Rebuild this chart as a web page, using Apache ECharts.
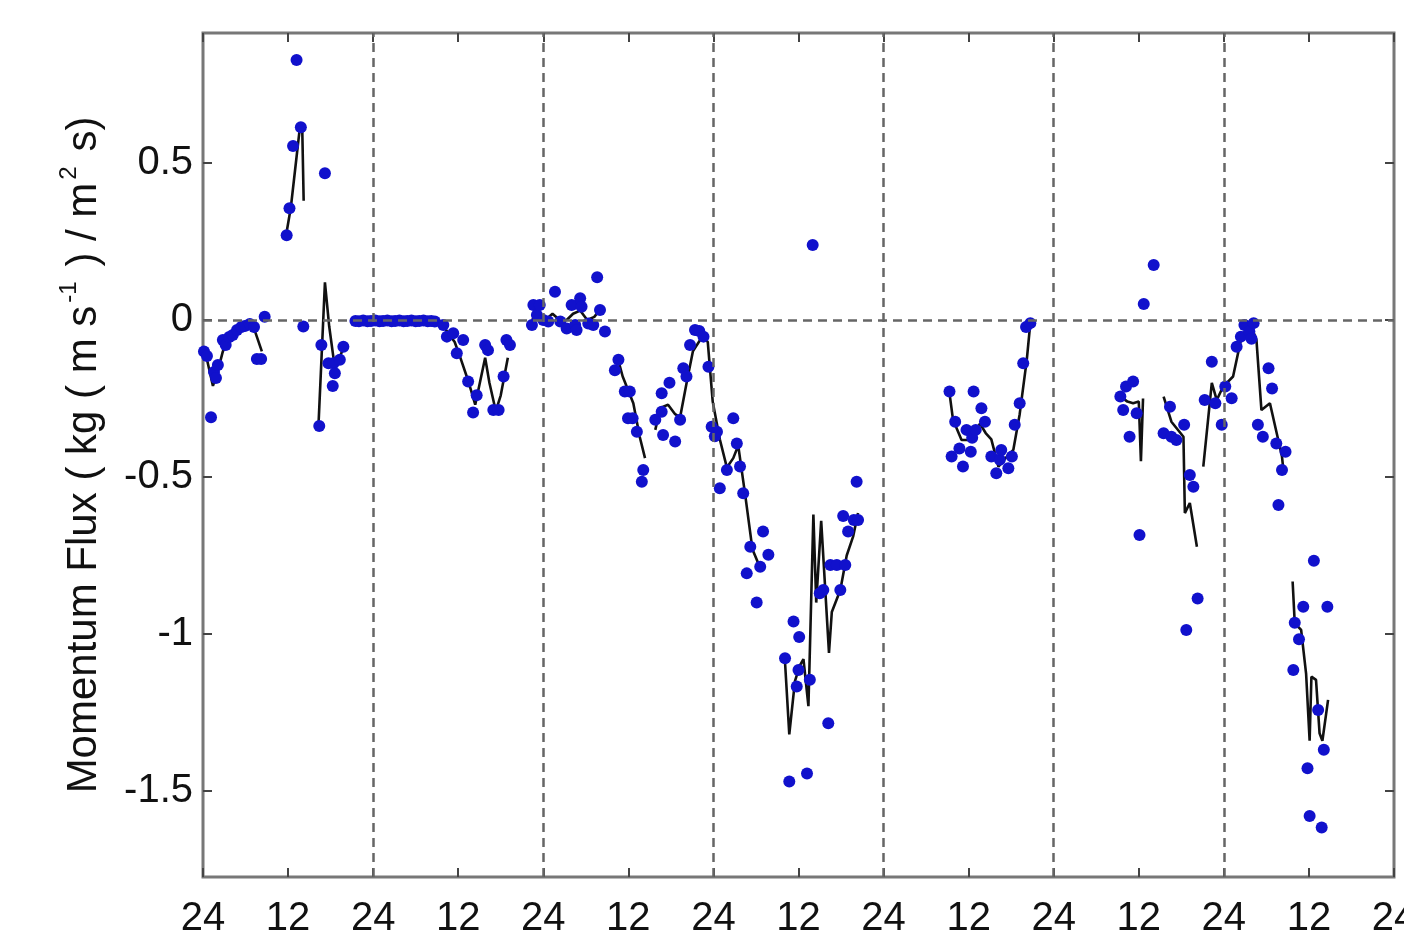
<!DOCTYPE html>
<html><head><meta charset="utf-8">
<script src="https://cdn.jsdelivr.net/npm/echarts@6/dist/echarts.min.js"></script>
<style>html,body{margin:0;padding:0;background:#fff;overflow:hidden;width:1404px;height:946px}#c{width:1404px;height:946px;position:absolute;left:0;top:0}</style>
</head><body><div id="c"></div>
<script>
// Scatter (raw) data: hours and momentum flux values
const dotHours = [
 0.14,0.56,1.13,1.55,1.83,2.1,2.8,3.2,3.7,4.2,4.8,5.4,5.9,6.6,7.2,7.6,8.2,8.7,
 11.8,12.2,12.7,13.2,13.8,14.15,16.4,16.7,17.2,17.7,18.3,18.4,18.6,19.3,19.8,
 21.5,22.0,22.6,23.2,23.7,24.3,24.9,25.4,26.0,26.6,27.1,27.7,28.3,28.8,29.4,30.0,30.5,31.1,31.7,32.2,32.7,
 33.9,34.4,35.3,35.8,36.7,37.4,38.1,38.6,39.8,40.2,40.95,41.7,42.4,42.8,43.3,
 46.4,46.6,47.1,47.5,48.0,48.7,49.65,50.4,51.3,52.0,52.5,52.7,53.2,53.4,54.35,55.05,55.6,56.0,56.7,
 58.1,58.6,59.5,59.95,60.2,60.6,61.2,61.9,62.1,63.8,64.7,64.7,64.9,65.8,66.6,67.3,67.75,68.2,68.7,69.4,70.0,70.6,71.3,71.75,72.2,72.5,72.9,73.9,74.8,75.3,75.75,76.2,76.7,77.2,78.1,78.6,79.0,79.75,
 82.1,82.7,83.3,83.75,84.0,84.1,85.2,85.6,86.0,87.0,87.5,88.2,88.5,89.4,89.9,90.3,90.6,91.0,91.8,92.2,92.4,
 105.3,105.6,106.1,106.7,107.2,107.7,108.3,108.5,108.7,109.0,109.8,110.3,111.2,111.9,112.4,112.6,113.6,114.1,114.5,115.2,115.7,116.1,116.7,
 129.4,129.8,130.2,130.7,131.2,131.7,132.1,132.7,134.1,135.5,136.4,136.6,137.3,138.4,138.7,139.2,139.7,140.3,141.3,142.3,142.8,143.7,144.2,145.1,145.8,146.4,146.9,147.6,147.9,148.2,148.8,149.5,150.3,150.8,151.4,151.7,152.2,152.7,
 153.8,154.0,154.6,155.2,155.8,156.1,156.7,157.3,157.8,158.1,158.6
];
const dotValues = [
 -0.10,-0.115,-0.31,-0.166,-0.185,-0.143,-0.064,-0.08,-0.054,-0.048,-0.032,-0.022,-0.019,-0.013,-0.022,-0.124,-0.124,0.01,
 0.27,0.356,0.554,0.828,0.614,-0.021,-0.338,-0.08,0.467,-0.138,-0.21,-0.138,-0.17,-0.127,-0.085,
 -0.003,-0.004,-0.002,-0.004,-0.003,-0.002,-0.004,-0.003,-0.002,-0.004,-0.003,-0.002,-0.004,-0.003,-0.002,-0.004,-0.003,-0.002,-0.004,-0.003,-0.005,
 -0.016,-0.053,-0.042,-0.106,-0.064,-0.196,-0.295,-0.24,-0.08,-0.096,-0.287,-0.287,-0.18,-0.064,-0.08,
 -0.016,0.048,0.016,0.048,0.0,-0.005,0.09,-0.005,-0.027,0.048,-0.016,-0.032,0.069,0.042,-0.011,-0.016,0.136,0.032,-0.037,
 -0.16,-0.127,-0.228,-0.313,-0.228,-0.313,-0.356,-0.515,-0.478,-0.318,-0.233,-0.292,-0.366,-0.2,-0.387,-0.318,-0.154,-0.18,-0.08,-0.032,-0.035,-0.053,-0.149,-0.34,-0.37,-0.356,-0.536,-0.478,-0.313,-0.393,-0.467,-0.552,-0.807,-0.722,-0.9,-0.786,-0.674,-0.748,
 -1.077,-1.47,-0.96,-1.167,-1.115,-1.01,-1.444,-1.146,0.239,-0.87,-0.86,-1.284,-0.78,-0.78,-0.86,-0.624,-0.78,-0.674,-0.637,-0.515,-0.637,
 -0.228,-0.435,-0.324,-0.409,-0.467,-0.35,-0.42,-0.375,-0.228,-0.35,-0.281,-0.324,-0.435,-0.488,-0.445,-0.414,-0.472,-0.435,-0.334,-0.265,-0.138,-0.022,-0.01,
 -0.244,-0.287,-0.212,-0.372,-0.196,-0.297,-0.685,0.051,0.175,-0.361,-0.276,-0.372,-0.382,-0.334,-0.987,-0.494,-0.531,-0.887,-0.255,-0.133,-0.265,-0.334,-0.212,-0.249,-0.085,-0.053,-0.016,-0.037,-0.06,-0.01,-0.334,-0.372,-0.154,-0.218,-0.393,-0.589,-0.478,-0.42,
 -1.115,-0.964,-1.017,-0.913,-1.428,-1.58,-0.767,-1.242,-1.616,-1.369,-0.913
];
// Smoothed line data (null = gap)
const lineHours = [
 0.0,0.6,1.4,2.0,2.8,3.8,5.0,6.4,7.4,8.3,null,
 11.8,12.4,13.1,13.6,14.0,14.2,null,
 16.3,17.2,17.8,18.4,19.0,19.6,null,
 21.5,24.0,27.0,30.0,32.7,33.9,35.5,36.3,37.5,38.4,39.8,40.4,41.3,42.0,43.0,null,
 46.4,47.3,48.3,49.3,50.3,51.3,52.2,53.2,54.2,55.2,56.2,null,
 58.6,59.2,60.7,61.6,62.35,null,
 63.8,64.5,65.6,66.6,67.3,68.3,69.1,70.5,71.2,71.9,72.9,73.9,74.8,75.5,76.5,77.5,78.6,null,
 82.1,82.7,83.5,84.2,84.7,85.4,86.1,86.5,87.2,88.3,88.7,89.9,90.8,91.7,92.4,null,
 105.3,105.8,107.0,108.2,109.6,110.4,111.2,112.2,113.2,114.3,115.2,116.2,116.7,null,
 129.2,130.4,131.2,132.0,132.3,132.6,null,
 135.5,136.6,138.3,138.5,139.2,140.2,null,
 141.1,142.3,143.0,143.9,145.3,146.5,147.7,148.6,149.3,150.5,152.2,152.4,null,
 153.7,154.0,154.9,155.6,156.1,156.35,157.0,157.5,157.9,158.7
];
const lineValues = [
 -0.10,-0.13,-0.21,-0.17,-0.10,-0.06,-0.04,-0.02,-0.04,-0.10,null,
 0.28,0.36,0.50,0.60,0.61,0.38,null,
 -0.33,0.12,-0.02,-0.12,-0.14,-0.10,null,
 -0.003,-0.003,-0.003,-0.003,-0.003,-0.02,-0.07,-0.12,-0.20,-0.27,-0.12,-0.20,-0.29,-0.24,-0.12,null,
 0.0,0.02,0.0,0.02,0.0,0.0,0.02,0.03,0.0,0.01,0.04,null,
 -0.13,-0.18,-0.265,-0.372,-0.44,null,
 -0.35,-0.28,-0.27,-0.30,-0.31,-0.19,-0.10,-0.05,-0.07,-0.26,-0.38,-0.47,-0.44,-0.40,-0.56,-0.73,-0.79,null,
 -1.09,-1.32,-1.15,-1.10,-1.08,-1.23,-0.62,-0.90,-0.64,-1.06,-0.93,-0.86,-0.75,-0.69,-0.615,null,
 -0.233,-0.318,-0.382,-0.382,-0.33,-0.36,-0.38,-0.467,-0.44,-0.414,-0.30,-0.127,-0.01,null,
 -0.24,-0.26,-0.265,-0.26,-0.45,-0.25,null,
 -0.244,-0.324,-0.372,-0.615,-0.583,-0.722,null,
 -0.467,-0.20,-0.255,-0.212,-0.18,-0.053,-0.01,-0.064,-0.287,-0.265,-0.435,-0.478,null,
 -0.833,-0.966,-0.987,-1.126,-1.34,-1.136,-1.146,-1.316,-1.34,-1.21
];
const yTicks = [-1.5, -1, -0.5, 0, 0.5];
const yTickLabels = ['-1.5', '-1', '-0.5', '0', '0.5'];
const xDayLines = [24, 48, 72, 96, 120, 144];

const dots = dotHours.map((h, i) => [h, dotValues[i]]);
const line = lineHours.map((h, i) => (h === null ? [null, null] : [h, lineValues[i]]));

const FONT = 'Liberation Sans, Arial, Helvetica, sans-serif';
const chart = echarts.init(document.getElementById('c'), null, {renderer: 'canvas', width: 1404, height: 946});
const tickStyle = {show: true, inside: true, length: 9, lineStyle: {color: '#444', width: 2}};
chart.setOption({
  animation: false,
  backgroundColor: '#fff',
  grid: {left: 203, right: 10, top: 33, bottom: 69, containLabel: false, outerBoundsMode: 'none',
         show: true, borderColor: '#777', borderWidth: 3, backgroundColor: 'transparent'},
  xAxis: [
    {type: 'value', min: 0, max: 168, interval: 12, position: 'bottom',
     axisLine: {show: false, onZero: false}, axisTick: tickStyle, splitLine: {show: false},
     axisLabel: {fontFamily: FONT, fontSize: 40, color: '#111', margin: 22, showMaxLabel: true, hideOverlap: false,
       formatter: v => (v % 24 === 0 ? '24' : '12')}},
    {type: 'value', min: 0, max: 168, interval: 12, position: 'top',
     axisLine: {show: false, onZero: false}, axisTick: tickStyle, axisLabel: {show: false}, splitLine: {show: false}}
  ],
  yAxis: [
    {type: 'value', min: -1.774, max: 0.914, position: 'left',
     axisLine: {show: false, onZero: false}, splitLine: {show: false},
     axisTick: Object.assign({customValues: yTicks}, tickStyle),
     axisLabel: {customValues: yTicks, fontFamily: FONT, fontSize: 40, color: '#111', margin: 10,
       formatter: v => yTickLabels[yTicks.indexOf(Math.round(v * 10) / 10)] ?? String(v)},
     name: '{a|Momentum Flux ( kg ( m s}{s|-1}{a| ) / m}{s|2}{a| s)}',
     nameLocation: 'middle', nameGap: 98,
     nameTextStyle: {fontFamily: FONT, color: '#111',
       rich: {a: {fontFamily: FONT, fontSize: 42, color: '#111', lineHeight: 48, verticalAlign: 'bottom'},
              s: {fontFamily: FONT, fontSize: 24, color: '#111', lineHeight: 48, verticalAlign: 'top', padding: [0, 3, 0, 3]}}}},
    {type: 'value', min: -1.774, max: 0.914, position: 'right',
     axisLine: {show: false, onZero: false}, splitLine: {show: false},
     axisTick: Object.assign({customValues: yTicks}, tickStyle), axisLabel: {show: false}}
  ],
  series: [
    {type: 'line', data: line, xAxisIndex: 0, yAxisIndex: 0, showSymbol: false, connectNulls: false,
     lineStyle: {color: '#111', width: 2.6}, z: 3,
     markLine: {silent: true, symbol: 'none', label: {show: false},
       lineStyle: {color: '#666', width: 2.5, type: [9, 6]},
       data: [{yAxis: 0}].concat(xDayLines.map(d => ({xAxis: d})))}},
    {type: 'scatter', data: dots, xAxisIndex: 0, yAxisIndex: 0, symbol: 'circle', symbolSize: 12,
     itemStyle: {color: '#1111cc', opacity: 1}, z: 4}
  ]
});
</script></body></html>
